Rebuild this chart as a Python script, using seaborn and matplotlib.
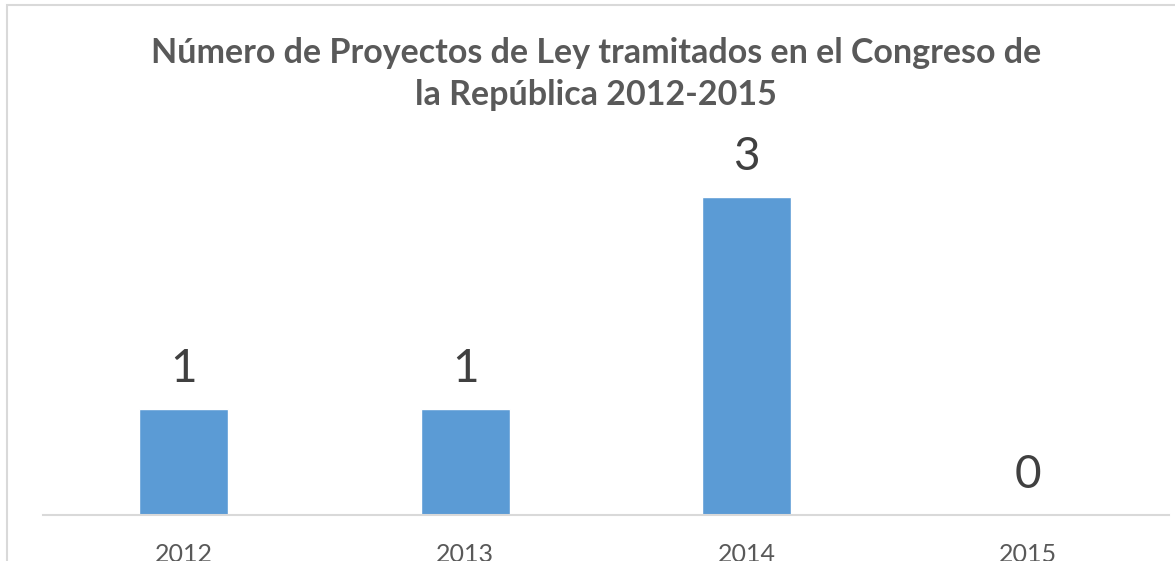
import matplotlib
matplotlib.use("Agg")
import matplotlib.pyplot as plt
import seaborn as sns
import pandas as pd

years = ["2012", "2013", "2014", "2015"]
proyectos = [1, 1, 3, 0]
title_text = "Número de Proyectos de Ley tramitados en el Congreso de\nla República 2012-2015"

sns.set_theme(style="white")
plt.rcParams["font.family"] = ["Lato", "DejaVu Sans"]

df = pd.DataFrame({"anio": years, "proyectos": proyectos})

fig = plt.figure(figsize=(11.75, 5.61), dpi=100)
ax = fig.add_axes([43 / 1175, 46 / 561, 1126 / 1175, 371 / 561])

sns.barplot(data=df, x="anio", y="proyectos", color="#5B9BD5", width=0.315,
            saturation=1, ax=ax)

ax.set_xlim(-0.5, 3.5)
ax.set_ylim(0, 3.5)
ax.set_xlabel("")
ax.set_ylabel("")
ax.set_yticks([])
for side in ["top", "left", "right"]:
    ax.spines[side].set_visible(False)
ax.spines["bottom"].set_color("#D9D9D9")
ax.spines["bottom"].set_linewidth(1.5)
ax.tick_params(axis="x", length=0, pad=20, labelsize=18, labelcolor="#595959")

for i, v in enumerate(proyectos):
    ax.annotate(f"{v}", xy=(i, v), xytext=(0, 14), textcoords="offset points",
                ha="center", va="bottom", fontsize=33, color="#404040")

fig.text(596 / 1175, 1 - 74 / 561, title_text, ha="center", va="center",
         fontsize=24.5, fontweight="bold", color="#595959", linespacing=1.4)

# chart frame
frame = plt.Rectangle((7 / 1175, -0.1), 1.2, 1 - 5 / 561 + 0.1, transform=fig.transFigure,
                      fill=False, edgecolor="#D9D9D9", linewidth=1.5)
fig.add_artist(frame)

fig.savefig("out.png", dpi=100)
